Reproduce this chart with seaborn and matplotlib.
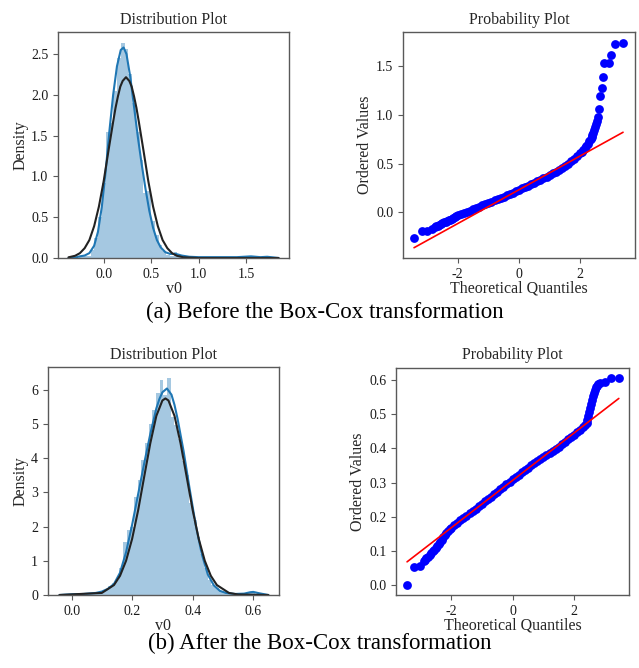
#! /usr/bin/python3
# -*- coding:utf-8 -*-
"""
Box-Cox 变换前后 v0 的分布图与概率图 (seaborn)。
"""
import seaborn as sns
import matplotlib.pyplot as plt

# ---------- (a) 变换前 ----------
# 直方图: 50 个等宽区间的左边界、宽度和密度
before_bin_start = -0.256
before_bin_width = 0.0397
before_hist = [0.01, 0.02, 0.03, 0.10, 0.25, 0.50, 0.92, 1.55, 1.65, 2.05,
               2.45, 2.63, 2.56, 2.25, 1.90, 1.55, 1.20, 0.80, 0.82, 0.45,
               0.28, 0.16, 0.09, 0.04, 0.03, 0.07, 0.03, 0.01, 0.01, 0.01,
               0.00, 0.01, 0.00, 0.01, 0.00, 0.00, 0.01, 0.01, 0.01, 0.00,
               0.00, 0.01, 0.00, 0.00, 0.00, 0.02, 0.01, 0.00, 0.00, 0.02]

before_kde_x = [-0.37, -0.30, -0.25, -0.20, -0.15, -0.10, -0.06, -0.02, 0.02, 0.06,
                0.10, 0.14, 0.18, 0.21, 0.24, 0.28, 0.32, 0.36, 0.40, 0.44,
                0.48, 0.52, 0.56, 0.60, 0.65, 0.70, 0.76, 0.82, 0.90, 1.00,
                1.20, 1.40, 1.55, 1.65, 1.72, 1.84]
before_kde_y = [0.00, 0.005, 0.02, 0.03, 0.06, 0.15, 0.32, 0.62, 1.05, 1.55,
                2.00, 2.35, 2.55, 2.58, 2.50, 2.22, 1.85, 1.48, 1.15, 0.85,
                0.58, 0.37, 0.22, 0.13, 0.07, 0.05, 0.05, 0.03, 0.015, 0.01,
                0.01, 0.01, 0.02, 0.01, 0.015, 0.00]

before_fit_x = [-0.37, -0.30, -0.25, -0.20, -0.15, -0.10, -0.05, 0.00, 0.05, 0.10,
                0.125, 0.15, 0.175, 0.20, 0.235, 0.27, 0.295, 0.32, 0.345, 0.37,
                0.42, 0.47, 0.52, 0.57, 0.62, 0.67, 0.72, 0.77, 0.84, 1.00, 1.84]
before_fit_y = [0.008, 0.027, 0.059, 0.12, 0.22, 0.39, 0.63, 0.94, 1.31, 1.67,
                1.84, 1.98, 2.10, 2.17, 2.216, 2.17, 2.10, 1.98, 1.84, 1.67,
                1.31, 0.94, 0.63, 0.39, 0.22, 0.12, 0.059, 0.027, 0.008, 0.00, 0.00]

before_qq_x = [-3.43, -3.18, -3.02, -2.85, -2.75, -2.7, -2.65, -2.6, -2.55, -2.5,
               -2.45, -2.4, -2.35, -2.3, -2.25, -2.2, -2.15, -2.1, -2.05, -2.0,
               -1.9, -1.8, -1.7, -1.6, -1.5, -1.4, -1.3, -1.2, -1.1, -1.0,
               -0.9, -0.8, -0.7, -0.6, -0.5, -0.4, -0.3, -0.2, -0.1, 0.0,
               0.1, 0.2, 0.3, 0.4, 0.5, 0.6, 0.7, 0.8, 0.9, 1.0,
               1.1, 1.2, 1.3, 1.4, 1.5, 1.6, 1.7, 1.8, 1.9, 2.0,
               2.05, 2.1, 2.15, 2.2, 2.25, 2.3, 2.34, 2.37, 2.4, 2.43,
               2.46, 2.5, 2.53, 2.56, 2.59, 2.62, 2.65, 2.70, 2.74, 2.79,
               2.93, 3.02, 3.13, 3.40]
before_qq_y = [-0.256, -0.19, -0.19, -0.165, -0.148, -0.14, -0.135, -0.13, -0.12, -0.11,
               -0.102, -0.095, -0.088, -0.08, -0.072, -0.065, -0.055, -0.045, -0.037, -0.03,
               -0.018, -0.005, 0.008, 0.02, 0.033, 0.046, 0.06, 0.072, 0.085, 0.098,
               0.11, 0.124, 0.137, 0.15, 0.163, 0.176, 0.19, 0.204, 0.218, 0.232,
               0.246, 0.26, 0.274, 0.289, 0.304, 0.319, 0.335, 0.351, 0.367, 0.384,
               0.401, 0.419, 0.438, 0.458, 0.479, 0.50, 0.523, 0.548, 0.575, 0.605,
               0.622, 0.64, 0.66, 0.68, 0.705, 0.73, 0.755, 0.775, 0.79, 0.815,
               0.84, 0.87, 0.90, 0.94, 0.98, 1.06, 1.19, 1.27, 1.39, 1.53,
               1.53, 1.61, 1.72, 1.73]
before_line_x = [-3.43, 3.40]
before_line_y = [-0.36, 0.82]

# ---------- (b) 变换后 ----------
after_bin_start = 0.0
after_bin_width = 0.01214
after_hist = [0.03, 0.00, 0.00, 0.00, 0.03, 0.03, 0.06, 0.09, 0.11, 0.17,
              0.26, 0.34, 0.45, 0.80, 1.55, 1.90, 2.00, 2.85, 3.35, 3.95,
              4.45, 5.00, 5.40, 5.90, 6.28, 5.85, 6.33, 5.20, 4.95, 4.55,
              3.90, 3.50, 2.70, 2.20, 1.70, 1.20, 0.80, 0.45, 0.30, 0.20,
              0.12, 0.08, 0.05, 0.03, 0.03, 0.00, 0.03, 0.06, 0.06, 0.09]

after_kde_x = [-0.04, 0.00, 0.04, 0.08, 0.10, 0.12, 0.14, 0.16, 0.18, 0.20,
               0.22, 0.24, 0.26, 0.28, 0.29, 0.30, 0.315, 0.33, 0.34, 0.35,
               0.37, 0.39, 0.41, 0.43, 0.45, 0.47, 0.49, 0.51, 0.54, 0.57,
               0.59, 0.60, 0.62, 0.65]
after_kde_y = [0.00, 0.02, 0.03, 0.06, 0.10, 0.18, 0.32, 0.65, 1.25, 2.05,
               2.95, 3.85, 4.70, 5.45, 5.72, 5.92, 6.03, 5.85, 5.55, 5.15,
               4.20, 3.10, 2.05, 1.20, 0.60, 0.28, 0.12, 0.06, 0.03, 0.04,
               0.08, 0.09, 0.05, 0.00]

after_fit_x = [-0.04, 0.10, 0.14, 0.16, 0.18, 0.20, 0.22, 0.24, 0.26, 0.28,
               0.30, 0.31, 0.32, 0.34, 0.36, 0.38, 0.40, 0.42, 0.44, 0.46,
               0.48, 0.52, 0.55, 0.65]
after_fit_y = [0.00, 0.06, 0.29, 0.56, 1.00, 1.64, 2.48, 3.46, 4.43, 5.23,
               5.68, 5.74, 5.68, 5.23, 4.43, 3.46, 2.48, 1.64, 1.00, 0.56,
               0.29, 0.06, 0.015, 0.00]

after_qq_x = [-3.43, -3.2, -3.02, -2.89, -2.84, -2.8, -2.75, -2.7, -2.65, -2.6,
              -2.55, -2.5, -2.45, -2.4, -2.35, -2.3, -2.25, -2.2, -2.15, -2.1,
              -2.05, -2.0, -1.9, -1.8, -1.7, -1.6, -1.5, -1.4, -1.3, -1.2,
              -1.1, -1.0, -0.9, -0.8, -0.7, -0.6, -0.5, -0.4, -0.3, -0.2,
              -0.1, 0.0, 0.1, 0.2, 0.3, 0.4, 0.5, 0.6, 0.7, 0.8,
              0.9, 1.0, 1.1, 1.2, 1.3, 1.4, 1.5, 1.6, 1.7, 1.8,
              1.9, 2.0, 2.1, 2.2, 2.3, 2.35, 2.4, 2.43, 2.46, 2.49,
              2.52, 2.55, 2.58, 2.61, 2.64, 2.67, 2.7, 2.73, 2.76, 2.85,
              3.01, 3.18, 3.45]
after_qq_y = [0.000, 0.054, 0.055, 0.070, 0.074, 0.078, 0.083, 0.088, 0.094, 0.099,
              0.103, 0.108, 0.113, 0.119, 0.125, 0.132, 0.140, 0.147, 0.153, 0.159,
              0.164, 0.168, 0.175, 0.182, 0.189, 0.196, 0.203, 0.210, 0.217, 0.224,
              0.231, 0.238, 0.245, 0.252, 0.259, 0.266, 0.273, 0.280, 0.288, 0.295,
              0.302, 0.309, 0.316, 0.323, 0.330, 0.337, 0.343, 0.350, 0.356, 0.362,
              0.368, 0.374, 0.380, 0.386, 0.392, 0.398, 0.405, 0.412, 0.419, 0.426,
              0.433, 0.440, 0.447, 0.455, 0.463, 0.468, 0.475, 0.482, 0.494, 0.505,
              0.518, 0.530, 0.542, 0.553, 0.562, 0.571, 0.578, 0.583, 0.587, 0.590,
              0.594, 0.607, 0.607]
after_line_x = [-3.43, 3.45]
after_line_y = [0.068, 0.546]

captions = ['(a) Before the Box-Cox transformation',
            '(b) After the Box-Cox transformation']

sns.set_style('ticks')
plt.rcParams['font.family'] = ['Liberation Serif', 'DejaVu Serif']
plt.rcParams['axes.unicode_minus'] = False
plt.rcParams['axes.edgecolor'] = '0.35'
plt.rcParams['xtick.color'] = '0.35'
plt.rcParams['ytick.color'] = '0.35'
plt.rcParams['xtick.labelcolor'] = '0.1'
plt.rcParams['ytick.labelcolor'] = '0.1'

fig = plt.figure(figsize=(6.39, 6.68), dpi=100)
ax1 = fig.add_axes([0.0908, 0.6138, 0.3615, 0.3383])
ax2 = fig.add_axes([0.6307, 0.6138, 0.3630, 0.3383])
ax3 = fig.add_axes([0.0746, 0.1093, 0.3624, 0.3409])
ax4 = fig.add_axes([0.6197, 0.1093, 0.3651, 0.3403])


def dist_panel(ax, start, width, heights, kde_x, kde_y, fit_x, fit_y):
    edges = [start + width * i for i in range(len(heights) + 1)]
    centers = [start + width * (i + 0.5) for i in range(len(heights))]
    sns.histplot(x=centers, weights=heights, bins=edges, stat='count',
                 color='#1f77b4', alpha=0.4, linewidth=0, ax=ax)
    sns.lineplot(x=kde_x, y=kde_y, color='#1f77b4', linewidth=1.5, ax=ax)
    sns.lineplot(x=fit_x, y=fit_y, color='#222222', linewidth=1.5, ax=ax)
    ax.set_title('Distribution Plot', fontsize=11.5)
    ax.set_xlabel('v0', fontsize=11.5, labelpad=0)
    ax.set_ylabel('Density', fontsize=11.5, labelpad=2)


def prob_panel(ax, qx, qy, lx, ly):
    sns.scatterplot(x=qx, y=qy, color='blue', s=40, linewidth=0, ax=ax)
    sns.lineplot(x=lx, y=ly, color='red', linewidth=1.2, ax=ax)
    ax.set_title('Probability Plot', fontsize=11.5)
    ax.set_xlabel('Theoretical Quantiles', fontsize=11.5, labelpad=0)
    ax.set_ylabel('Ordered Values', fontsize=11.5, labelpad=2)
    ax.set_xticks([-2, 0, 2])


dist_panel(ax1, before_bin_start, before_bin_width, before_hist,
           before_kde_x, before_kde_y, before_fit_x, before_fit_y)
ax1.set_xlim(-0.48, 1.95)
ax1.set_ylim(0, 2.77)
ax1.set_xticks([0.0, 0.5, 1.0, 1.5])
ax1.set_yticks([0.0, 0.5, 1.0, 1.5, 2.0, 2.5])

prob_panel(ax2, before_qq_x, before_qq_y, before_line_x, before_line_y)
ax2.set_xlim(-3.79, 3.79)
ax2.set_ylim(-0.465, 1.845)
ax2.set_yticks([0.0, 0.5, 1.0, 1.5])

dist_panel(ax3, after_bin_start, after_bin_width, after_hist,
           after_kde_x, after_kde_y, after_fit_x, after_fit_y)
ax3.set_xlim(-0.079, 0.686)
ax3.set_ylim(0, 6.65)
ax3.set_xticks([0.0, 0.2, 0.4, 0.6])
ax3.set_yticks([0, 1, 2, 3, 4, 5, 6])

prob_panel(ax4, after_qq_x, after_qq_y, after_line_x, after_line_y)
ax4.set_xlim(-3.79, 3.79)
ax4.set_ylim(-0.029, 0.636)
ax4.set_yticks([0.0, 0.1, 0.2, 0.3, 0.4, 0.5, 0.6])

for ax in (ax1, ax2, ax3, ax4):
    ax.tick_params(labelsize=10, length=3.5, width=0.8)
    for sp in ax.spines.values():
        sp.set_linewidth(1.0)

fig.text(0.508, 1 - 312 / 668, captions[0], ha='center', va='center',
         fontsize=16.5, color='black')
fig.text(0.501, 1 - 643 / 668, captions[1], ha='center', va='center',
         fontsize=16.5, color='black')

fig.savefig('out.png', dpi=100)
